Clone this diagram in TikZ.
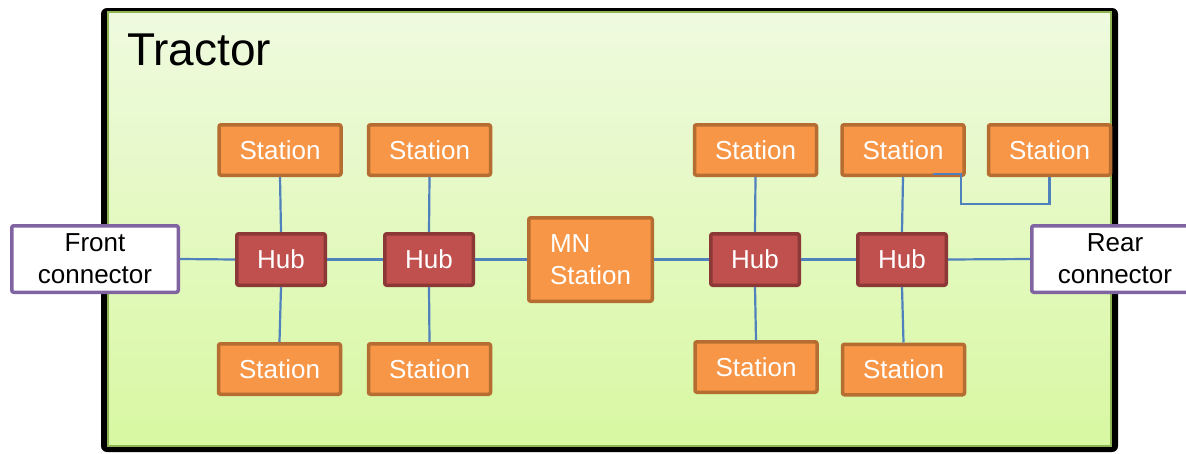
\documentclass[tikz,border=0pt]{standalone}
\usepackage{fontspec}
\setmainfont{Liberation Sans}
\usetikzlibrary{calc}
\definecolor{stfill}{HTML}{F79646}
\definecolor{stline}{HTML}{B66D31}
\definecolor{hubfill}{HTML}{C0504D}
\definecolor{hubline}{HTML}{8C3836}
\definecolor{conline}{HTML}{8064A2}
\definecolor{wire}{HTML}{4F81BD}
\definecolor{tractop}{HTML}{EFFADF}
\definecolor{tracbot}{HTML}{D8F8A2}
\definecolor{tracline}{HTML}{8FB454}
\begin{document}
\begin{tikzpicture}[x=1pt,y=-1pt,
  box/.style={draw, line width=3.5pt, rounded corners=2pt, inner sep=0pt,
    font=\fontsize{26}{32}\selectfont, align=center},
  station/.style={box, fill=stfill, draw=stline, text=white,
    minimum width=122pt, minimum height=50.5pt},
  hub/.style={box, fill=hubfill, draw=hubline, text=white,
    minimum width=88.5pt, minimum height=51.5pt},
  mnstation/.style={box, fill=stfill, draw=stline, text=white, align=left,
    minimum width=123.5pt, minimum height=83.5pt},
  connector/.style={box, fill=white, draw=conline, text=black,
    minimum width=166.5pt, minimum height=66.5pt},
  wireline/.style={draw=wire, line width=2.2pt}
]
\useasboundingbox (0,0) rectangle (1186,453);
\clip (0,0) rectangle (1186,453);

% tractor frame
\fill[black, rounded corners=6pt] (101,8) rectangle (1118,452);
\shade[top color=tractop, bottom color=tracbot, draw=tracline, line width=2pt]
  (108,12) rectangle (1111,446);
\node[anchor=base west, inner sep=0pt, font=\fontsize{46}{52}\selectfont]
  (title) at (127,65) {Tractor};

% top stations
\node[station] (s1) at (280,150) {Station};
\node[station] (s2) at (429.5,150) {Station};
\node[station] (s3) at (755.5,150) {Station};
\node[station] (s4) at (903,150) {Station};
\node[station] (s5) at (1049.5,150) {Station};

% hubs and managing node
\node[hub] (h1) at (281,259.5) {Hub};
\node[hub] (h2) at (429,259.5) {Hub};
\node[mnstation] (mn) at (590.5,259.5) {MN\\Station};
\node[hub] (h3) at (755,259.5) {Hub};
\node[hub] (h4) at (902,259.5) {Hub};

% bottom stations
\node[station] (b1) at (279.5,369) {Station};
\node[station] (b2) at (429.5,369) {Station};
\node[station] (b3) at (756,367) {Station};
\node[station] (b4) at (903.5,369.5) {Station};

% end connectors
\node[connector] (front) at (95,259) {Front\\connector};
\node[connector] (rear) at (1115,259) {Rear\\connector};

% backbone
\draw[wireline] (front.east) -- (h1.west);
\draw[wireline] (h1.east) -- (h2.west);
\draw[wireline] (h2.east) -- (mn.west |- h2.east);
\draw[wireline] (mn.east |- h3.west) -- (h3.west);
\draw[wireline] (h3.east) -- (h4.west);
\draw[wireline] (h4.east) -- (rear.west);

% hub to station links
\draw[wireline] (s1.south) -- (h1.north);
\draw[wireline] (h1.south) -- (b1.north);
\draw[wireline] (s2.south) -- (h2.north);
\draw[wireline] (h2.south) -- (b2.north);
\draw[wireline] (s3.south) -- (h3.north);
\draw[wireline] (h3.south) -- (b3.north);
\draw[wireline] (s4.south) -- (h4.north);
\draw[wireline] (h4.south) -- (b4.north);

% daisy-chained station
\coordinate (tap) at (933,174);
\coordinate (bendA) at (961,174);
\coordinate (bendB) at (961,204);
\coordinate (bendC) at (1049.5,204);
\draw[wireline] (tap) -- (bendA) -- (bendB) -- (bendC) -- (s5.south);
\end{tikzpicture}
\end{document}
